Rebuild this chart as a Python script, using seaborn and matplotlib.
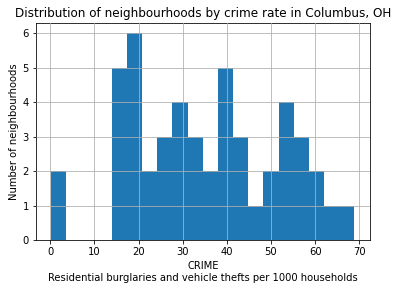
import numpy as np
import pandas as pd
import matplotlib
matplotlib.use("Agg")
import matplotlib.pyplot as plt
import seaborn as sns

# bin range (20 equal bins between min and max CRIME) and counts per bin
bin_lo = 0.178269
bin_hi = 68.892044
n_bins = 20
counts = [2, 0, 0, 0, 5, 6, 2, 3, 4, 3, 2, 5, 3, 1, 2, 4, 3, 2, 1, 1]

title = "Distribution of neighbourhoods by crime rate in Columbus, OH"
xlabel = "CRIME\nResidential burglaries and vehicle thefts per 1000 households"
ylabel = "Number of neighbourhoods"

edges = np.linspace(bin_lo, bin_hi, n_bins + 1)
centers = (edges[:-1] + edges[1:]) / 2
df = pd.DataFrame({"CRIME": centers, "count": counts})

plt.rcParams["font.family"] = ["DejaVu Sans"]
fig = plt.figure(figsize=(397 / 72, 290 / 72), dpi=72)
ax = fig.add_axes([36 / 397, 1 - 240 / 290, (369.5 - 36) / 397, (240 - 23) / 290])

sns.histplot(data=df, x="CRIME", weights="count", bins=n_bins,
             binrange=(bin_lo, bin_hi), ax=ax,
             color="#1f77b4", alpha=1.0, edgecolor="none", linewidth=0)

ax.grid(True, color="#b0b0b0", linewidth=0.8)
ax.set_axisbelow(False)
ax.set_title(title, fontsize=12)
ax.set_xlabel(xlabel, fontsize=10)
ax.set_ylabel(ylabel, fontsize=10)
ax.set_xticks([0, 10, 20, 30, 40, 50, 60, 70])
ax.set_yticks([0, 1, 2, 3, 4, 5, 6])
ax.tick_params(labelsize=10)
ax.margins(x=0.05)
ax.set_ylim(0, 6.3)

fig.savefig("out.png", dpi=72, facecolor="white")
